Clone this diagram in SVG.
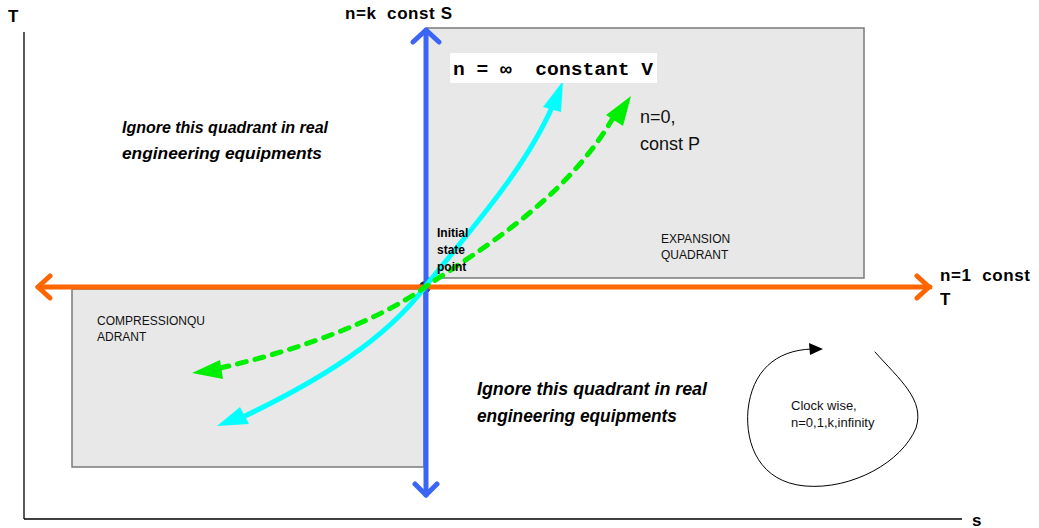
<svg xmlns="http://www.w3.org/2000/svg" width="1039" height="528" viewBox="0 0 1039 528">
<style>
.ax{stroke:#000;stroke-width:1.3;fill:none}
.quad{fill:#e8e8e8;stroke:#7a7a7a;stroke-width:1.5}
.lbl{font-family:"Liberation Sans",Arial,sans-serif;font-weight:bold;font-size:17px;fill:#000}
.cal{font-family:"Liberation Sans",Arial,sans-serif;fill:#111}
.ign{font-family:"Liberation Sans",Arial,sans-serif;font-weight:bold;font-style:italic;fill:#000}
.cond{font-family:"Liberation Sans Narrow","Liberation Sans",Arial,sans-serif;font-weight:bold;font-size:12px;fill:#000}
</style>
<rect width="1039" height="528" fill="#fff"/>
<g id="axes">
<line class="ax" x1="24" y1="32" x2="24" y2="519"/>
<line class="ax" x1="24" y1="519" x2="962" y2="519"/>
<text class="lbl" x="8" y="22">T</text>
<text class="lbl" x="972" y="526">s</text>
</g>
<g id="expansion-quadrant">
<rect class="quad" x="427" y="28" width="437" height="250"/>
<text class="cal" font-size="12" x="661" y="243">EXPANSION</text>
<text class="cal" font-size="12" x="661" y="259">QUADRANT</text>
</g>
<g id="compression-quadrant">
<rect class="quad" x="72" y="289" width="352" height="178"/>
<text class="cal" font-size="12" x="97" y="325">COMPRESSIONQU</text>
<text class="cal" font-size="12" x="97" y="341">ADRANT</text>
</g>
<circle cx="425" cy="287" r="6" fill="#222"/>
<g id="connectors">
<g fill="none" stroke-linecap="round" stroke-linejoin="round">
<path d="M425 287H930M38 287H425" stroke="#ff6600" stroke-width="5"/>
<path d="M917 276L929 287L917 298M50 276L38 287L50 298" stroke="#ff6600" stroke-width="5"/>
<path d="M426 30V495" stroke="#3b66f5" stroke-width="5"/>
<path d="M413 42L426 30L439 42M415 484L426 495L437 484" stroke="#3b66f5" stroke-width="5"/>
<path d="M245 416C320 380 385 340 425 287C470 230 525 170 553 105" stroke="#00ffff" stroke-width="5"/>
<path d="M220 368C300 350 380 320 425 287C480 250 565 200 613 118" stroke="#00ee00" stroke-width="5" stroke-dasharray="9 9"/>
<path d="M875 352C900 380 925 400 916 428C902 462 852 490 805 486C760 482 745 445 748 410C752 372 775 350 812 349" stroke="#000" stroke-width="1"/>
</g>
<polygon points="217,426 240,407 249,424" fill="#00ffff"/>
<polygon points="563,81 543,107 561,112" fill="#00ffff"/>
<polygon points="192,373 220,360 223,379" fill="#00ee00"/>
<polygon points="631,96 606,115 623,126" fill="#00ee00"/>
<polygon points="823,349 809,343 810,355" fill="#000"/>
</g>
<g id="label-s">
<text class="lbl" x="345" y="19" xml:space="preserve" textLength="107">n=k  const S</text>
</g>
<g id="label-t">
<text class="lbl" x="940" y="281" xml:space="preserve" textLength="90">n=1  const</text>
<text class="lbl" x="940" y="305">T</text>
</g>
<g id="label-v">
<rect x="450" y="53" width="207" height="30" fill="#fff"/>
<text x="453" y="75" font-family="'Liberation Mono','Courier New',monospace" font-weight="bold" font-size="18" fill="#000" xml:space="preserve" textLength="200" lengthAdjust="spacingAndGlyphs">n = ∞  constant V</text>
</g>
<g id="label-p">
<text class="cal" font-size="18" x="640" y="123">n=0,</text>
<text class="cal" font-size="18" x="640" y="150">const P</text>
</g>
<g id="initial-point">
<text class="cond" x="437" y="237">Initial</text>
<text class="cond" x="437" y="254">state</text>
<text class="cond" x="437" y="271">point</text>
</g>
<g id="note-upper">
<text class="ign" font-size="16" x="122" y="133" textLength="206" lengthAdjust="spacingAndGlyphs">Ignore this quadrant in real</text>
<text class="ign" font-size="16" x="122" y="159" textLength="200" lengthAdjust="spacingAndGlyphs">engineering equipments</text>
</g>
<g id="note-lower">
<text class="ign" font-size="18" x="477" y="395" textLength="230" lengthAdjust="spacingAndGlyphs">Ignore this quadrant in real</text>
<text class="ign" font-size="18" x="477" y="422" textLength="200" lengthAdjust="spacingAndGlyphs">engineering equipments</text>
</g>
<g id="cycle-note">
<text class="cal" font-size="13" x="791" y="410">Clock wise,</text>
<text class="cal" font-size="13" x="791" y="427">n=0,1,k,infinity</text>
</g>
</svg>
